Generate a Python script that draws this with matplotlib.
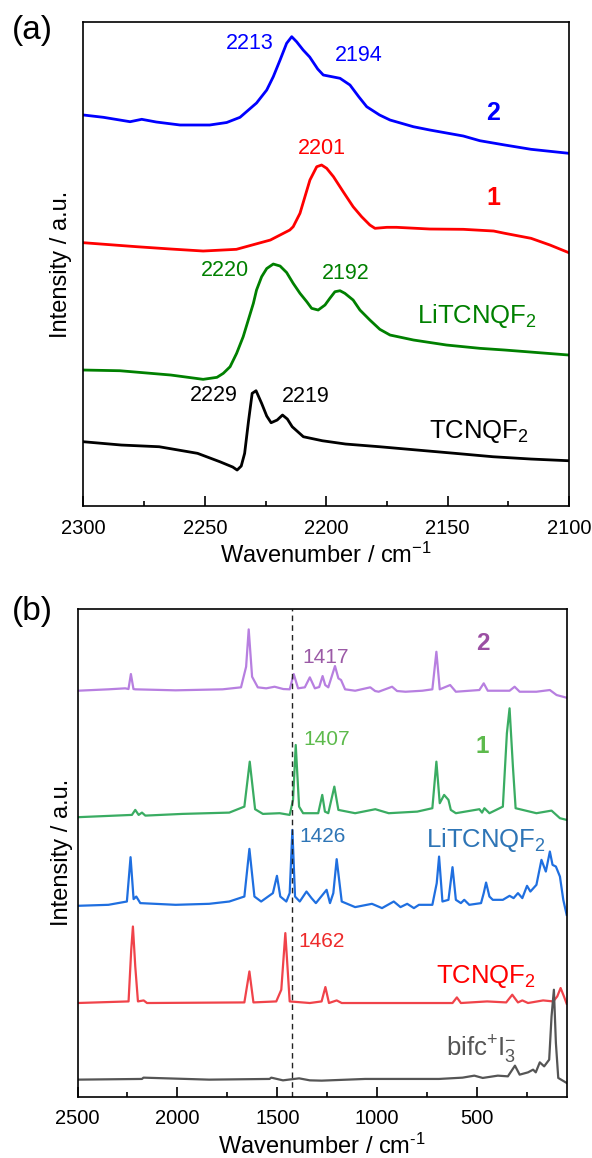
import matplotlib
matplotlib.use("Agg")
import matplotlib.pyplot as plt
from matplotlib.ticker import MultipleLocator

plt.rcParams["font.family"] = ["Liberation Sans", "DejaVu Sans"]
plt.rcParams["mathtext.fontset"] = "custom"
plt.rcParams["mathtext.rm"] = "Liberation Sans"
plt.rcParams["mathtext.it"] = "Liberation Sans:italic"
plt.rcParams["mathtext.bf"] = "Liberation Sans:bold"

# ---- panel (a): IR, nitrile region (stacked, arbitrary units) ----
ir2_wn = [2300, 2291.8, 2280.8, 2276, 2270, 2260.2, 2248, 2241, 2235.5, 2228.7, 2224.5, 2221.8,
          2219, 2216.3, 2214.2, 2212.2, 2209.5, 2206.8, 2203.5, 2201.2, 2197, 2194.3, 2190.2,
          2186.5, 2183.3, 2178, 2173.7, 2164.1, 2157.3, 2143.5, 2136.7, 2126.4, 2115.6, 2100]
ir2_int = [391, 388.7, 384.3, 386.7, 384, 381, 381, 383.5, 388.7, 403, 416, 429.3,
           446, 462.7, 469.3, 464.3, 456, 449, 437, 431, 429, 427.7, 421,
           409, 399.3, 391, 386, 379.3, 376, 370, 365.3, 361, 356.7, 352.7]

ir1_wn = [2300, 2278, 2264, 2250.7, 2237, 2223, 2215, 2213.6, 2210.8, 2206.7, 2203.9, 2201.9,
          2199.8, 2197, 2193, 2188.9, 2185.4, 2182, 2179.9, 2175, 2171, 2157.3, 2143.5, 2131,
          2126.4, 2115.6, 2107.8, 2100]
ir1_int = [263.3, 259.3, 257, 255, 256.7, 266, 276, 279.3, 292.7, 326, 339.3, 341,
           337.7, 329.3, 314.3, 299.3, 289.3, 281, 277.7, 278.7, 278.7, 277, 276.7, 275,
           272.7, 267.7, 261, 253.3]

irli_wn = [2300, 2285, 2264, 2250.7, 2245, 2242.4, 2239.6, 2236.9, 2234.2, 2232.1, 2230, 2228.7,
           2226.6, 2224.5, 2221.8, 2219, 2216.3, 2213.6, 2210.8, 2208, 2206, 2203.3, 2200.5,
           2198.5, 2196.4, 2194.3, 2192.3, 2188.9, 2186.1, 2182, 2177.9, 2173.7, 2164, 2150.4,
           2136.7, 2126.4, 2100]
irli_int = [136, 135.3, 131, 126.7, 128.7, 132.7, 139.3, 152.7, 169.3, 186, 202.7, 216,
            229.3, 237.5, 242, 240, 233.5, 222.7, 212.7, 204.3, 197.7, 196, 201,
            207.7, 214.3, 215.3, 212.7, 206, 196, 186, 176.7, 171, 166, 161,
            157.7, 156, 151]

irt_wn = [2300, 2284.4, 2268.8, 2253, 2243.8, 2238.5, 2236.7, 2235, 2233.6, 2232, 2230.5, 2228.9,
          2226.6, 2224.5, 2222.7, 2220.2, 2218, 2216, 2214, 2209.4, 2201.6, 2192, 2178, 2162.5,
          2146.9, 2131.3, 2115.6, 2100]
irt_int = [64.3, 61, 59.3, 52.7, 44.3, 39, 36, 40, 52.7, 85, 112.7, 115.3,
           102.7, 90, 83.3, 86, 91, 87, 79.3, 69.3, 65.3, 62, 59.3, 56,
           52.7, 49.3, 47, 45.3]

# ---- panel (b): Raman (stacked, arbitrary units) ----
r2_wn = [2500, 2345.5, 2261.5, 2245, 2232.9, 2220, 2211, 2009, 1774, 1681.5, 1656, 1643, 1626,
         1597.5, 1555.4, 1513.4, 1470, 1437.8, 1417.6, 1395.8, 1362, 1336.9, 1311.7, 1290, 1273,
         1260, 1244.5, 1210.9, 1194, 1180.6, 1160.4, 1110, 1034.3, 1010, 992.3, 925.1, 900, 857.9,
         773.8, 723.4, 703.2, 686.4, 634.3, 605.7, 488, 466.2, 446, 336.7, 311.5, 286.3, 202.3,
         135, 101.4, 51]
r2_int = [406.3, 407.7, 408.7, 408, 423, 408, 407.7, 406.7, 407.7, 409.7, 430.3, 467.7, 420.3,
          409.7, 408.7, 410.3, 408, 407.7, 423, 408.7, 409.7, 419.7, 408.7, 410, 421,
          412, 409.7, 431, 418.7, 417, 407.7, 406.3, 409.7, 406, 405.3, 410.3, 406, 405.3,
          406.3, 407.7, 445.3, 407.7, 412, 405.3, 407, 413.7, 406.3, 406.3, 410.3, 405.3, 405.3,
          407, 402, 399.3]

r1_wn = [2500, 2345.5, 2227.8, 2211, 2194, 2177.4, 2160.6, 1975.7, 1740.3, 1664.7, 1637.8, 1611,
         1572, 1488, 1437.8, 1421, 1407.5, 1390.7, 1370.6, 1294.9, 1274.7, 1261.3, 1244.5, 1214.2,
         1194, 1110, 1009.1, 941.9, 799, 723.4, 703.2, 686.4, 664.5, 642.7, 631, 605.7, 488, 474.6,
         462.8, 437.6, 370.4, 350.2, 336.8, 320, 306.5, 202.3, 126.6, 84.6, 51]
r1_int = [279.7, 281, 282, 287, 282, 284.3, 281.3, 283, 284.3, 290.3, 335.3, 287.7,
          283, 283.7, 282, 297, 352, 290.3, 283.7, 283.7, 302, 285.3, 283.7, 310.3,
          287, 283.7, 287.7, 283.7, 285.3, 288.7, 335.3, 293.7, 302, 297, 287, 283.7, 287.7, 284.3,
          288.7, 283.7, 290.3, 363.7, 388.7, 330.3, 288.7, 283.7, 286.3, 278.7, 277]

rli_wn = [2500, 2345.5, 2253, 2234.6, 2219.4, 2206, 2185.8, 2009, 1841, 1740.3, 1664.7, 1639.5,
          1614.3, 1580.7, 1521.8, 1501.6, 1484.8, 1454.6, 1437.8, 1424.3, 1411, 1387.3, 1353.7,
          1328.5, 1306.6, 1252.9, 1236, 1219.3, 1202.5, 1177.2, 1110, 1026, 975.5, 916.7, 883,
          849.4, 815.8, 790.6, 723.4, 701.5, 689.8, 672.9, 642.7, 622.5, 605.7, 580.5, 563.7,
          538.5, 479.6, 466.2, 454.4, 437.6, 420.8, 370.4, 336.8, 316.6, 294.8, 272.9, 249.4,
          232.5, 202.3, 177.1, 155.2, 135, 121.6, 104.8, 84.6, 67.8, 51]
rli_int = [191, 192, 195.3, 239.7, 197.7, 200.3, 193.7, 192, 193, 195.3, 200.3, 248,
           200.3, 195.3, 203.7, 221, 200.3, 195.3, 203.7, 267, 200.3, 195.3, 205.3,
           198.7, 193.7, 207, 193.7, 203.7, 237.7, 195.3, 189.7, 193, 188.7, 195.3, 189.7,
           193, 188.7, 192, 192, 213.7, 240.3, 195.3, 197, 229.7, 197, 193.7, 197,
           192, 193.7, 203.7, 214.3, 200.3, 197, 197, 201, 198.7, 203.7, 198.7, 211,
           205.3, 212, 237, 225.3, 245.3, 232, 230.3, 220.3, 197, 182]

rt_wn = [2500, 2244.6, 2231.2, 2222.8, 2211, 2197.6, 2169, 2152.2, 1664.7, 1639.5, 1619.3, 1505,
         1479.8, 1459.6, 1437.8, 1337, 1278, 1259, 1241.1, 1202.5, 1177.2, 622.5, 600.7, 580.5,
         449.4, 353.6, 323.3, 294.8, 272.9, 244.4, 168.7, 118.3, 98, 81.2, 64.4, 51]
rt_int = [93.7, 95.3, 147, 170.3, 130.3, 95.3, 96.3, 93.7, 94.3, 125.3, 94.3, 95.3,
          107, 163.7, 95.3, 93.7, 95.3, 109.7, 93.7, 96.3, 93.7, 93.7, 99.3, 93.7,
          95.3, 94.3, 102, 94.3, 96.3, 93.7, 96.3, 95.3, 100.3, 108.7, 100.3, 93]

rb_wn = [2500, 2177.4, 2170, 1841, 1538.6, 1530, 1471.4, 1390.7, 1337, 1278, 1059.6, 857.9, 689.8,
         572.1, 513.3, 471.2, 395.6, 345.2, 309.8, 286.3, 244.4, 219, 205.6, 185.4, 163.6, 138.4,
         126.6, 114.8, 104.8, 93, 51]
rb_int = [17, 17.7, 19, 17, 17.7, 19, 16.3, 18.3, 16.3, 16, 17.7, 17.7, 17.7,
          19, 21, 18.7, 21, 20.3, 31, 22, 24.3, 27, 24.3, 34.3, 30.3, 37,
          80.3, 107, 53.7, 18.7, 13.7]

dash_wn = 1424

fig = plt.figure(figsize=(5.92, 11.58), dpi=100)
ax1 = fig.add_axes([0.141, 0.563, 0.820, 0.418])
ax2 = fig.add_axes([0.131, 0.053, 0.8265, 0.421])

lw = 2.0
ax1.plot(ir2_wn, ir2_int, color="#0000ff", lw=lw, solid_joinstyle="round")
ax1.plot(ir1_wn, ir1_int, color="#ff0000", lw=lw, solid_joinstyle="round")
ax1.plot(irli_wn, irli_int, color="#008000", lw=lw, solid_joinstyle="round")
ax1.plot(irt_wn, irt_int, color="#000000", lw=lw, solid_joinstyle="round")

ax1.set_xlim(2300, 2100)
ax1.set_ylim(0, 484)
ax1.xaxis.set_major_locator(MultipleLocator(50))
ax1.xaxis.set_minor_locator(MultipleLocator(25))
ax1.set_yticks([])

fs_pk = 15.5
ax1.text(2231.6, 463, "2213", color="#0000ff", fontsize=fs_pk, ha="center", va="center")
ax1.text(2186.7, 451, "2194", color="#0000ff", fontsize=fs_pk, ha="center", va="center")
ax1.text(2131.1, 393, "2", color="#0000ff", fontsize=18, fontweight="bold", ha="center", va="center")
ax1.text(2201.6, 358, "2201", color="#ff0000", fontsize=fs_pk, ha="center", va="center")
ax1.text(2131.1, 308, "1", color="#ff0000", fontsize=18, fontweight="bold", ha="center", va="center")
ax1.text(2241.9, 236, "2220", color="#008000", fontsize=fs_pk, ha="center", va="center")
ax1.text(2191.9, 233, "2192", color="#008000", fontsize=fs_pk, ha="center", va="center")
ax1.text(2162.4, 183, r"LiTCNQF$_2$", color="#008000", fontsize=18.5, ha="left", va="baseline")
ax1.text(2246.1, 111, "2229", color="#000000", fontsize=fs_pk, ha="center", va="center")
ax1.text(2208.6, 110, "2219", color="#000000", fontsize=fs_pk, ha="center", va="center")
ax1.text(2157.8, 68, r"TCNQF$_2$", color="#000000", fontsize=18.5, ha="left", va="baseline")

lw2 = 1.6
ax2.plot(r2_wn, r2_int, color="#b77fe0", lw=lw2)
ax2.plot(r1_wn, r1_int, color="#3aac62", lw=lw2)
ax2.plot(rli_wn, rli_int, color="#1f6fe0", lw=lw2)
ax2.plot(rt_wn, rt_int, color="#f0434a", lw=lw2)
ax2.plot(rb_wn, rb_int, color="#555555", lw=lw2)
ax2.axvline(dash_wn, color="#222222", lw=1.0, ls=(0, (4, 3)))

ax2.set_xlim(2500, 50)
ax2.set_ylim(0, 488)
ax2.xaxis.set_major_locator(MultipleLocator(500))
ax2.xaxis.set_minor_locator(MultipleLocator(250))
ax2.set_yticks([])

fs_pb = 15
ax2.text(1374, 440, "1417", color="#9b5aa6", fontsize=fs_pb, ha="left", va="center")
ax2.text(471, 454, "2", color="#9b4fa3", fontsize=17.5, fontweight="bold", ha="center", va="center")
ax2.text(1371, 357, "1407", color="#5dba4c", fontsize=fs_pb, ha="left", va="center")
ax2.text(475, 350, "1", color="#5dba4c", fontsize=17.5, fontweight="bold", ha="center", va="center")
ax2.text(1391, 260, "1426", color="#2e75b6", fontsize=fs_pb, ha="left", va="center")
ax2.text(757, 250, r"LiTCNQF$_2$", color="#2e75b6", fontsize=18.5, ha="left", va="baseline")
ax2.text(1396, 155, "1462", color="#ee2b2b", fontsize=fs_pb, ha="left", va="center")
ax2.text(707, 114, r"TCNQF$_2$", color="#ff0000", fontsize=18.5, ha="left", va="baseline")
ax2.text(656, 40, r"bifc$^{+}$I$_3^{-}$", color="#555555", fontsize=18.5, ha="left", va="baseline")

for ax in (ax1, ax2):
    for sp in ax.spines.values():
        sp.set_linewidth(1.2)
    ax.tick_params(axis="x", which="major", direction="in", length=7, width=1.2,
                   labelsize=14.5, pad=9)
    ax.tick_params(axis="x", which="minor", direction="in", length=3.8, width=1.2)

ax1.set_xlabel(r"Wavenumber / cm$^{-1}$", fontsize=17, labelpad=4)
ax2.set_xlabel(r"Wavenumber / cm$^{\text{-1}}$", fontsize=17, labelpad=4)
ax1.set_ylabel("Intensity / a.u.", fontsize=17, labelpad=8.5)
ax2.set_ylabel("Intensity / a.u.", fontsize=17, labelpad=3)

fig.text(0.054, 0.974, "(a)", fontsize=24, ha="center", va="center")
fig.text(0.054, 0.472, "(b)", fontsize=24, ha="center", va="center")

fig.savefig("out.png", dpi=100)
